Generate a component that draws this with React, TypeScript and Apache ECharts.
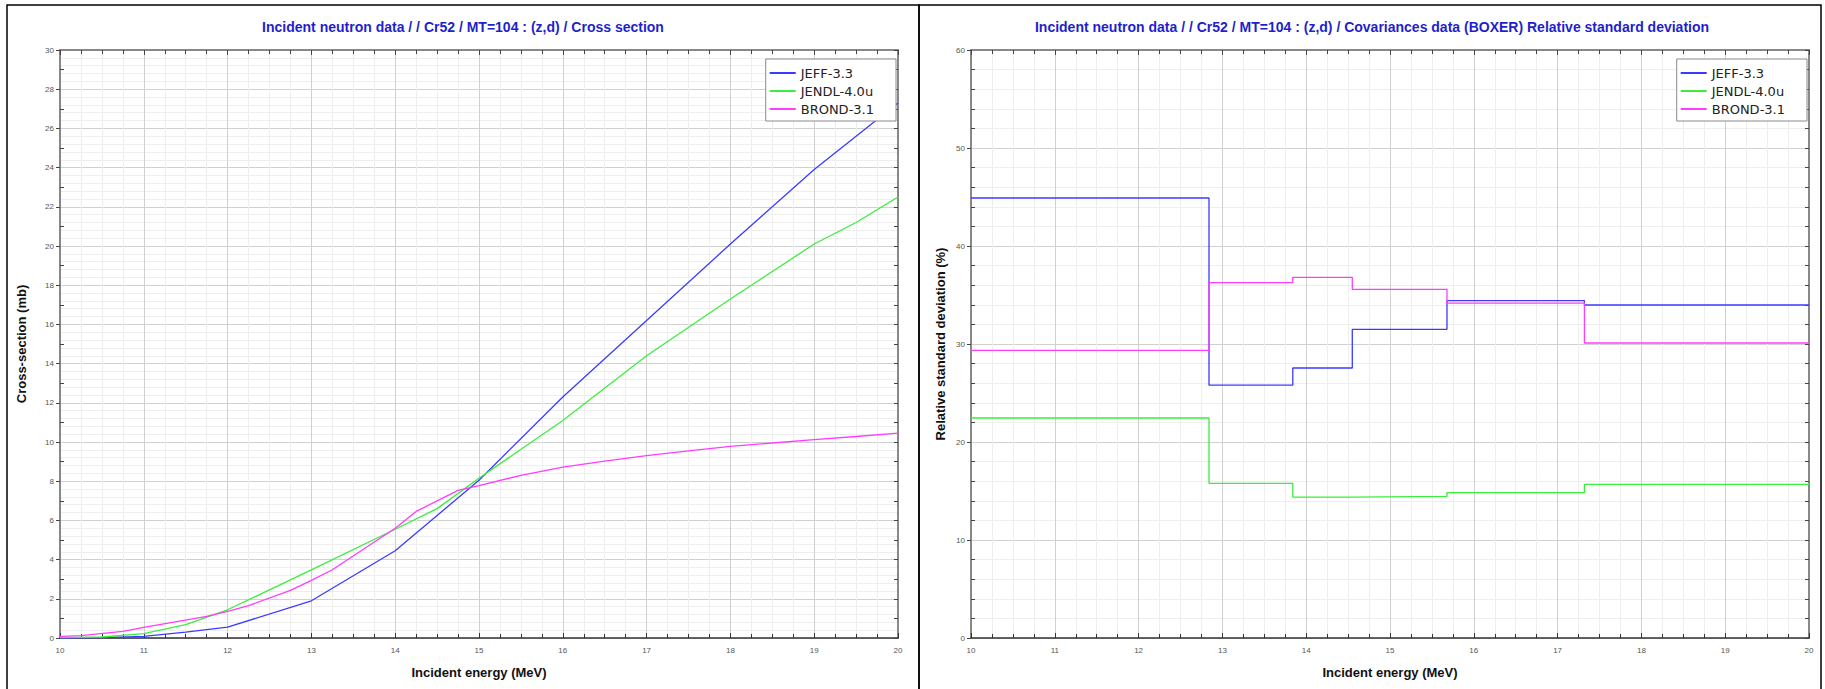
import React, { useEffect, useRef } from 'react';
import * as echarts from 'echarts';

// ---------- data ----------
const seriesNames = ['JEFF-3.3', 'JENDL-4.0u', 'BROND-3.1'];

// Cross section (mb) vs incident energy (MeV)
const jeffE = [10, 10.5, 11, 11.5, 12, 13, 14, 15, 16, 17, 18, 19, 20];
const jeffXS = [0.0, 0.02, 0.08, 0.3, 0.55, 1.9, 4.45, 8.05, 12.3, 16.2, 20.1, 23.9, 27.3];

const jendlE = [10, 10.5, 11, 11.5, 12, 13, 14, 14.5, 15, 16, 17, 18, 19, 19.5, 20];
const jendlXS = [0.02, 0.05, 0.22, 0.68, 1.44, 3.48, 5.55, 6.6, 8.15, 11.1, 14.4, 17.3, 20.1, 21.2, 22.5];

const brondE = [10, 10.25, 10.75, 11, 11.75, 12, 12.25, 12.75, 13, 13.25, 14, 14.25, 14.75, 15, 15.5, 16, 16.5, 17, 17.5, 18, 18.5, 19, 19.5, 20];
const brondXS = [0.08, 0.12, 0.34, 0.54, 1.1, 1.36, 1.65, 2.43, 2.94, 3.48, 5.6, 6.46, 7.53, 7.77, 8.3, 8.72, 9.02, 9.3, 9.55, 9.78, 9.95, 10.12, 10.28, 10.45];

// Relative standard deviation (%) – group boundaries (MeV)
const covE = [10, 12.84, 13.84, 14.55, 15.68, 17.32, 20];
const jeffRSD = [44.9, 25.8, 27.55, 31.5, 34.42, 33.98, 33.98];
const jendlRSD = [22.45, 15.78, 14.38, 14.45, 14.83, 15.68, 15.68];
const brondRSD = [29.35, 36.26, 36.8, 35.57, 34.18, 30.1, 30.1];

const leftTitle = 'Incident neutron data / / Cr52 / MT=104 : (z,d) / Cross section';
const rightTitle = 'Incident neutron data / / Cr52 / MT=104 : (z,d) / Covariances data (BOXER) Relative standard deviation';
const xName = 'Incident energy (MeV)';
const leftYName = 'Cross-section (mb)';
const rightYName = 'Relative standard deviation (%)';

// ---------- styles ----------
const colors = ['#3b3bff', '#3ded3d', '#ff3dff'];
const narrow = '"Liberation Sans Narrow", "Arial Narrow", "Liberation Sans", Arial, sans-serif';
const legendFont = '"DejaVu Sans", "Noto Sans", sans-serif';

const zip = (xs: number[], ys: number[]) => xs.map((x, i) => [x, ys[i]]);

function buildAxes(gridIndex: number, yMax: number, yInterval: number, yMinorSplit: number, yName: string, yNameGap: number) {
  const xAxes = [
    {
      type: 'value', gridIndex, position: 'bottom', min: 10, max: 20, interval: 1,
      axisLine: { show: true, onZero: false, lineStyle: { color: '#333', width: 1.5 } },
      axisTick: { show: true, inside: true, length: 5, lineStyle: { color: '#333' } },
      minorTick: { show: true, splitNumber: 4, length: 4, lineStyle: { color: '#333' } },
      axisLabel: { color: '#555', fontSize: 8, margin: 8, fontFamily: narrow },
      splitLine: { show: true, lineStyle: { color: '#d0d0d0', width: 1 } },
      minorSplitLine: { show: true, lineStyle: { color: '#eeeeee', width: 1 } },
      name: xName, nameLocation: 'middle', nameGap: 28,
      nameTextStyle: { fontWeight: 'bold', fontSize: 13, color: '#111', fontFamily: narrow },
    },
    {
      type: 'value', gridIndex, position: 'top', min: 10, max: 20, interval: 1,
      axisLine: { show: true, onZero: false, lineStyle: { color: '#888', width: 2 } },
      axisTick: { show: true, inside: true, length: 5, lineStyle: { color: '#444' } },
      minorTick: { show: true, splitNumber: 4, length: 4, lineStyle: { color: '#444' } },
      axisLabel: { show: false },
      splitLine: { show: false },
      minorSplitLine: { show: false },
    },
  ];
  const yAxes = [
    {
      type: 'value', gridIndex, position: 'left', min: 0, max: yMax, interval: yInterval,
      axisLine: { show: true, onZero: false, lineStyle: { color: '#888', width: 2 } },
      axisTick: { show: true, inside: false, length: 4, lineStyle: { color: '#444' } },
      minorTick: { show: false },
      axisLabel: { color: '#555', fontSize: 8, margin: 6, fontFamily: narrow },
      splitLine: { show: true, lineStyle: { color: '#d0d0d0', width: 1 } },
      minorSplitLine: { show: true, lineStyle: { color: '#eeeeee', width: 1 } },
      name: yName, nameLocation: 'middle', nameGap: yNameGap,
      nameTextStyle: { fontWeight: 'bold', fontSize: 13, color: '#111', fontFamily: narrow },
    },
    {
      type: 'value', gridIndex, position: 'left', min: 0, max: yMax, interval: yInterval,
      axisLine: { show: false, onZero: false },
      axisTick: { show: false, inside: true },
      minorTick: { show: true, splitNumber: yMinorSplit, length: 4, lineStyle: { color: '#444' } },
      axisLabel: { show: false },
      splitLine: { show: false },
      minorSplitLine: { show: false },
    },
    {
      type: 'value', gridIndex, position: 'right', min: 0, max: yMax, interval: yInterval,
      axisLine: { show: true, onZero: false, lineStyle: { color: '#888', width: 2 } },
      axisTick: { show: true, inside: true, length: 4, lineStyle: { color: '#444' } },
      minorTick: { show: true, splitNumber: yMinorSplit, length: 4, lineStyle: { color: '#444' } },
      axisLabel: { show: false },
      splitLine: { show: false },
      minorSplitLine: { show: false },
    },
  ];
  return { xAxes, yAxes };
}

function legendAt(right: number) {
  return {
    orient: 'vertical', right, top: 59, data: seriesNames, icon: 'rect',
    itemWidth: 26, itemHeight: 2, itemGap: 4,
    backgroundColor: '#fff', borderColor: '#8a8a8a', borderWidth: 1,
    padding: [7, 22, 5, 4], selectedMode: false,
    textStyle: { fontFamily: legendFont, fontSize: 13, color: '#222', lineHeight: 14 },
  };
}

export default function App() {
  const ref = useRef<HTMLDivElement>(null);
  useEffect(() => {
    if (!ref.current) return;
    const chart = echarts.init(ref.current, undefined, { renderer: 'svg' });
    const left = buildAxes(0, 30, 2, 2, leftYName, 32);
    const right = buildAxes(1, 60, 10, 5, rightYName, 24);

    const xsSeries = [
      zip(jeffE, jeffXS), zip(jendlE, jendlXS), zip(brondE, brondXS),
    ];
    const rsdSeries = [
      zip(covE, jeffRSD), zip(covE, jendlRSD), zip(covE, brondRSD),
    ];

    const series: any[] = [];
    seriesNames.forEach((name, i) => {
      series.push({
        type: 'line', name, xAxisIndex: 0, yAxisIndex: 0, data: xsSeries[i],
        showSymbol: false, symbol: 'none', clip: true,
        lineStyle: { color: colors[i], width: 1.3 }, itemStyle: { color: colors[i] },
      });
    });
    seriesNames.forEach((name, i) => {
      series.push({
        type: 'line', name, xAxisIndex: 2, yAxisIndex: 3, data: rsdSeries[i], step: 'end',
        showSymbol: false, symbol: 'none', clip: true,
        lineStyle: { color: colors[i], width: 1.3 }, itemStyle: { color: colors[i] },
      });
    });

    const titleStyle = (text: string, x: number) => ({
      type: 'text', x, y: 27, silent: true,
      style: {
        text, fill: '#1f1fcc', fontSize: 14, fontWeight: 'bold', fontFamily: narrow,
        align: 'center', verticalAlign: 'middle',
      },
    });

    chart.setOption({
      animation: false,
      backgroundColor: '#ffffff',
      grid: [
        { left: 60, top: 50, width: 838, height: 588, containLabel: false },
        { left: 971, top: 50, width: 838, height: 588, containLabel: false },
      ],
      xAxis: [...left.xAxes, ...right.xAxes],
      yAxis: [...left.yAxes, ...right.yAxes],
      legend: [legendAt(1825 - 896), legendAt(1825 - 1807)],
      series,
      graphic: [
        {
          type: 'rect', silent: true, z: 100,
          shape: { x: 7, y: 5, width: 912, height: 720 },
          style: { fill: 'none', stroke: '#000', lineWidth: 1.5 },
        },
        {
          type: 'rect', silent: true, z: 100,
          shape: { x: 919, y: 5, width: 902, height: 720 },
          style: { fill: 'none', stroke: '#000', lineWidth: 1.5 },
        },
        titleStyle(leftTitle, 463),
        titleStyle(rightTitle, 1372),
      ],
    });
    return () => chart.dispose();
  }, []);
  return <div ref={ref} style={{ position: 'fixed', left: 0, top: 0, width: 1825, height: 689, background: '#fff' }} />;
}
